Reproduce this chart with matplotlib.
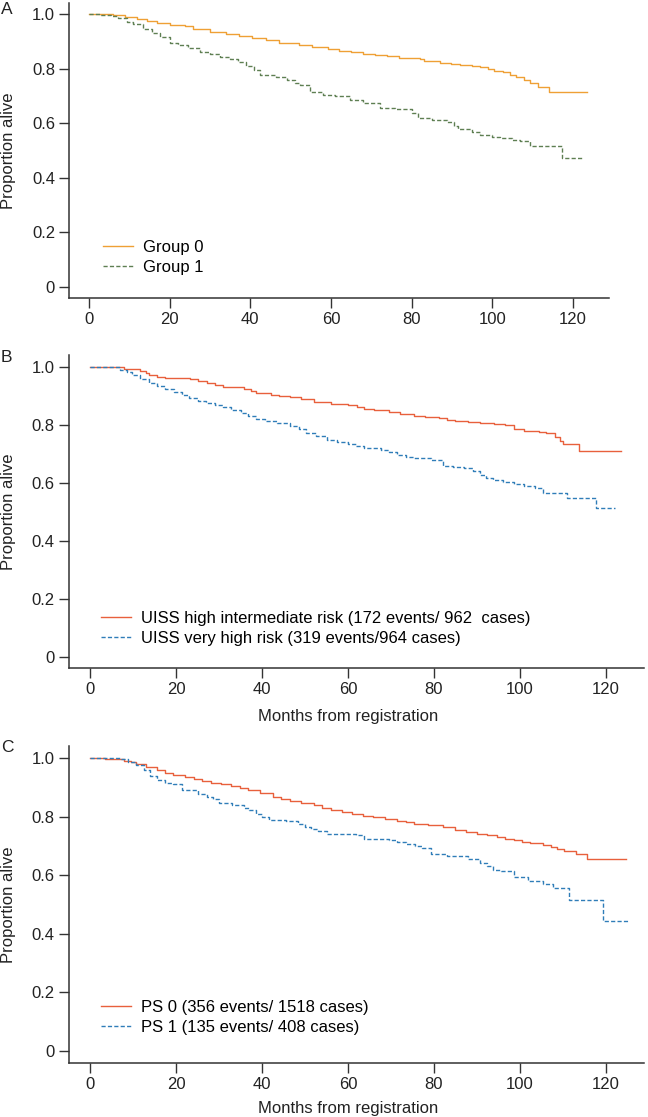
import matplotlib.pyplot as plt

plt.rcParams['font.family'] = ['Liberation Sans', 'DejaVu Sans']
plt.rcParams['font.size'] = 12

# Panel A: survival curves by group (months, proportion alive)
a_g0_t = [0, 6, 9, 12, 14.3, 16.8, 20, 23.7, 25.8, 29.9, 34, 37.2, 40.5, 43.8, 47.1,
          52, 55.3, 59.3, 62, 65, 68, 71, 74, 77, 82, 83, 87, 89.7, 92, 95, 97, 99,
          100.5, 102.7, 104.4, 106, 108, 109.4, 111.4, 114.1, 123.6]
a_g0_s = [1.0, 0.997, 0.99, 0.982, 0.975, 0.968, 0.959, 0.955, 0.946, 0.934, 0.928,
          0.918, 0.912, 0.903, 0.895, 0.885, 0.878, 0.87, 0.865, 0.86, 0.855, 0.849,
          0.845, 0.84, 0.834, 0.826, 0.822, 0.815, 0.812, 0.81, 0.806, 0.8, 0.792,
          0.787, 0.775, 0.77, 0.758, 0.748, 0.731, 0.713, 0.713]
a_g1_t = [0, 3, 5.5, 7.3, 9.3, 11, 13.5, 15.5, 17.5, 20, 22, 24.5, 27.5, 30, 32.5, 35,
          37, 39, 41, 42.4, 46.5, 49, 51, 52.3, 54.8, 58, 61, 64.7, 68, 72.2, 76, 80,
          81.6, 85, 88.7, 90.5, 91.6, 95, 97, 100, 102, 105, 107, 109.4, 117.2, 122.5]
a_g1_s = [1.0, 0.997, 0.992, 0.984, 0.97, 0.962, 0.946, 0.93, 0.915, 0.895, 0.887,
          0.875, 0.862, 0.852, 0.843, 0.835, 0.825, 0.81, 0.795, 0.777, 0.768, 0.757,
          0.748, 0.74, 0.715, 0.705, 0.698, 0.685, 0.675, 0.657, 0.652, 0.636, 0.62,
          0.612, 0.605, 0.59, 0.577, 0.568, 0.557, 0.55, 0.545, 0.538, 0.535, 0.518,
          0.471, 0.471]

# Panel B: UISS risk groups
b_hi_t = [0, 4, 7.8, 11.7, 13, 13.6, 15.5, 17.5, 23.3, 25, 27.1, 29, 31, 33.5, 35.8,
          37.5, 38.7, 42, 44, 46.4, 49, 52.2, 56.1, 60, 62, 63.8, 66, 69.6, 72, 75.4,
          78, 81.2, 83, 85, 88, 90.8, 94, 96.6, 98.6, 101, 104.4, 106, 108.2, 109.4,
          110, 113.8, 123.5]
b_hi_s = [1.0, 0.997, 0.993, 0.985, 0.978, 0.971, 0.965, 0.96, 0.956, 0.95, 0.943,
          0.936, 0.931, 0.928, 0.922, 0.915, 0.91, 0.902, 0.898, 0.894, 0.887, 0.879,
          0.871, 0.867, 0.86, 0.853, 0.85, 0.844, 0.838, 0.83, 0.826, 0.822, 0.816,
          0.811, 0.808, 0.805, 0.801, 0.798, 0.785, 0.779, 0.775, 0.77, 0.759, 0.744,
          0.732, 0.71, 0.71]
b_vh_t = [0, 3.5, 6.9, 8.5, 9.8, 11.7, 13.6, 15.5, 17.5, 19.5, 21.3, 23, 25.2, 27,
          29.1, 31, 32.9, 35, 36.8, 38.5, 40.6, 43.5, 46.4, 48.5, 50.3, 52.5, 55.1,
          57.5, 60, 61.8, 63.8, 67.7, 69.5, 71.5, 73.5, 75.4, 79.3, 82.2, 84.5, 87, 89,
          90.8, 92, 93.7, 96, 98.6, 101, 103.4, 105.3, 111, 117.7, 122.2]
b_vh_s = [1.0, 0.997, 0.989, 0.98, 0.971, 0.958, 0.943, 0.932, 0.922, 0.912, 0.902,
          0.893, 0.883, 0.875, 0.868, 0.86, 0.851, 0.84, 0.828, 0.82, 0.813, 0.805,
          0.795, 0.785, 0.772, 0.76, 0.747, 0.74, 0.733, 0.725, 0.718, 0.713, 0.705,
          0.695, 0.69, 0.684, 0.678, 0.657, 0.653, 0.649, 0.64, 0.626, 0.617, 0.609,
          0.602, 0.595, 0.59, 0.58, 0.563, 0.546, 0.511, 0.511]

# Panel C: performance status
c_ps0_t = [0, 3.5, 6, 7.8, 9.5, 10.7, 13, 15.5, 17.5, 19.4, 22, 24.2, 26, 28.1, 30.5,
           32.9, 34.8, 36.8, 39.5, 42.6, 44.5, 46.4, 49, 52.2, 54, 56.1, 58.5, 60.9,
           63.5, 65.7, 68.5, 71.5, 73.5, 75.4, 78.5, 82.2, 85, 87.5, 89.9, 92.3, 94.7,
           96.5, 98.6, 100.5, 102.4, 105.3, 107.2, 108.5, 110.2, 113, 115.5, 124.6]
c_ps0_s = [1.0, 0.997, 0.995, 0.99, 0.985, 0.981, 0.97, 0.96, 0.95, 0.941, 0.935,
           0.93, 0.922, 0.915, 0.91, 0.905, 0.898, 0.89, 0.88, 0.867, 0.86, 0.853,
           0.847, 0.839, 0.83, 0.822, 0.816, 0.81, 0.803, 0.797, 0.791, 0.785, 0.78,
           0.776, 0.771, 0.765, 0.753, 0.748, 0.742, 0.736, 0.731, 0.725, 0.719, 0.715,
           0.71, 0.702, 0.697, 0.69, 0.683, 0.672, 0.657, 0.657]
c_ps1_t = [0, 6.9, 8.8, 10.7, 12.6, 14, 15.5, 17.5, 19.4, 21.3, 25.2, 27.1, 28.5, 30,
           33, 35.8, 37, 38.7, 40, 41.6, 45.5, 48.4, 50, 51.3, 53, 55.1, 61.9, 63.8,
           69.6, 71.5, 73.5, 75.5, 77.3, 79.2, 83.1, 88, 90.8, 92.3, 93.7, 95.5, 98.6,
           101.9, 105.3, 107.7, 111.3, 119.3, 125.1]
c_ps1_s = [1.0, 0.995, 0.986, 0.975, 0.958, 0.94, 0.924, 0.915, 0.91, 0.89, 0.878,
           0.867, 0.86, 0.847, 0.838, 0.831, 0.822, 0.81, 0.8, 0.79, 0.785, 0.776,
           0.765, 0.759, 0.75, 0.742, 0.736, 0.725, 0.719, 0.714, 0.708, 0.7, 0.694,
           0.674, 0.665, 0.657, 0.64, 0.63, 0.619, 0.616, 0.594, 0.58, 0.569, 0.555,
           0.517, 0.444, 0.444]

x_ticks = [0, 20, 40, 60, 80, 100, 120]
y_ticks = [0, 0.2, 0.4, 0.6, 0.8, 1.0]
y_tick_labels = ['0', '0.2', '0.4', '0.6', '0.8', '1.0']

W, H = 648, 1117
fig = plt.figure(figsize=(W / 100, H / 100), dpi=100)


def px_axes(left, top, right, bottom):
    return fig.add_axes([left / W, 1 - bottom / H, (right - left) / W, (bottom - top) / H])


def style(ax):
    ax.set_xlim(-4.96, 128.96)
    ax.set_ylim(-0.04, 1.04)
    ax.set_xticks(x_ticks)
    ax.set_yticks(y_ticks)
    ax.set_yticklabels(y_tick_labels)
    for s in ['top', 'right']:
        ax.spines[s].set_visible(False)
    for s in ['left', 'bottom']:
        ax.spines[s].set_color('#333333')
        ax.spines[s].set_linewidth(1.1)
    ax.tick_params(direction='out', length=7, width=1.0, color='#333333',
                   labelcolor='#222222', labelsize=12, pad=3)


panels = [
    # letter, axes box in px (l, t, r, b), curves, legend anchor px, xlabel y px, letter y px
    ('A', (69, 3, 609, 298),
     [(a_g0_t, a_g0_s, '#EFA035', '-', 'Group 0'),
      (a_g1_t, a_g1_s, '#5E7F52', '--', 'Group 1')],
     (103, 240), None, 10),
    ('B', (68.7, 355, 644.5, 668.3),
     [(b_hi_t, b_hi_s, '#E8603C', '-', 'UISS high intermediate risk (172 events/ 962  cases)'),
      (b_vh_t, b_vh_s, '#2F7DB8', '--', 'UISS very high risk (319 events/964 cases)')],
     (101, 611), 717, 357),
    ('C', (68.7, 746.3, 644.5, 1062.7),
     [(c_ps0_t, c_ps0_s, '#E8603C', '-', 'PS 0 (356 events/ 1518 cases)'),
      (c_ps1_t, c_ps1_s, '#2F7DB8', '--', 'PS 1 (135 events/ 408 cases)')],
     (101, 1000), 1108, 748),
]

for letter, box, curves, leg_px, xlab_y, letter_y in panels:
    ax = px_axes(*box)
    style(ax)
    for t, s, color, ls, label in curves:
        line, = ax.step(t, s, where='post', color=color, lw=1.0, label=label)
        if ls == '--':
            line.set_dashes((3, 1.6))
    ax.legend(loc='upper left', bbox_to_anchor=(leg_px[0] / W, 1 - leg_px[1] / H),
              bbox_transform=fig.transFigure, frameon=False, borderpad=0,
              borderaxespad=0, handlelength=1.8, handletextpad=0.6,
              labelspacing=0.3, fontsize=12)
    l, t, r, b = box
    fig.text(8.5 / W, 1 - (t + b) / 2 / H, 'Proportion alive', rotation=90,
             ha='center', va='center', fontsize=12, color='#222222')
    fig.text(1 / W, 1 - letter_y / H, letter, ha='left', va='center',
             fontsize=12.5, color='#222222')
    if xlab_y is not None:
        fig.text((90 + 60 * 4.3) / W, 1 - xlab_y / H, 'Months from registration',
                 ha='center', va='center', fontsize=12, color='#222222')

fig.savefig('out.png', dpi=100)
